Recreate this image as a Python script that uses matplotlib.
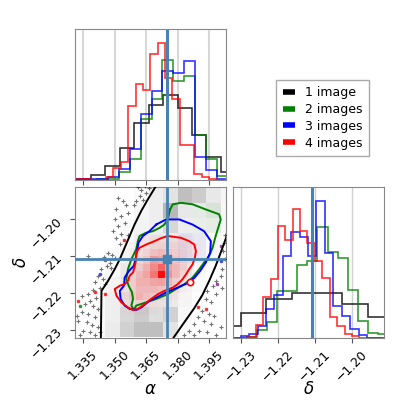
import matplotlib
matplotlib.use("Agg")
import matplotlib.pyplot as plt
import numpy as np
from matplotlib.colors import LinearSegmentedColormap
from matplotlib.lines import Line2D
from matplotlib.ticker import FuncFormatter

# ---- data ----
labels = ["1 image", "2 images", "3 images", "4 images"]
colors = ["black", "green", "blue", "red"]
alpha_true = 1.3748
delta_true = -1.2107

alpha_lim = (1.3312, 1.4030)
delta_lim = (-1.2322, -1.1912)
alpha_ticks = [1.335, 1.350, 1.365, 1.380, 1.395]
delta_ticks = [-1.23, -1.22, -1.21, -1.20]

# alpha marginals
a_edges_1 = [1.3320, 1.3389, 1.3457, 1.3526, 1.3594, 1.3663, 1.3731, 1.3800, 1.3868, 1.3937, 1.4005, 1.4074]
a_counts_1 = [1.2, 5.2, 13.8, 31.2, 56.8, 74.5, 84.5, 71.2, 44.5, 22.8, 7.8]
a_edges_23 = [1.3313, 1.3365, 1.3417, 1.3469, 1.3520, 1.3572, 1.3624, 1.3676, 1.3727, 1.3779,
              1.3831, 1.3882, 1.3934, 1.3986, 1.4038]
a_counts_2 = [0, 0, 0.5, 1, 8, 21, 60, 80.5, 119, 98, 103.5, 44.5, 21, 3.5]
a_counts_3 = [0.5, 0.5, 1, 3, 11, 31, 65, 88, 108, 105.5, 118, 23, 9.5, 1]
a_edges_4 = [1.3320, 1.3355, 1.3390, 1.3425, 1.3460, 1.3495, 1.3530, 1.3565, 1.3600, 1.3635, 1.3670,
             1.3705, 1.3740, 1.3774, 1.3809, 1.3844, 1.3879, 1.3914, 1.3949, 1.3984, 1.4019]
a_counts_4 = [1, 1, 0.3, 0.3, 3, 12, 18, 73.5, 95, 89.5, 125, 136, 101, 80, 34.5, 34.5, 6, 2.5, 0.5, 0.3]

# delta marginals
d_edges_1 = [-1.2368, -1.2299, -1.2231, -1.2162, -1.2093, -1.2025, -1.1956, -1.1887]
d_counts_1 = [13, 26.3, 41.7, 47.3, 47.3, 36.3, 22.3]
d_edges_2 = [-1.2313, -1.2285, -1.2258, -1.2230, -1.2203, -1.2175, -1.2148, -1.2120, -1.2093, -1.2065,
             -1.2037, -1.2010, -1.1982, -1.1955, -1.1927, -1.1899]
d_counts_2 = [0.3, 1.5, 8, 17.3, 49.7, 49.7, 77.3, 81.7, 117.3, 91.3, 84.7, 50.7, 18, 5.7, 4.7]
d_edges_3 = [-1.2324, -1.2301, -1.2278, -1.2255, -1.2233, -1.2210, -1.2187, -1.2164, -1.2141, -1.2118,
             -1.2096, -1.2073, -1.2050, -1.2027, -1.2004, -1.1981, -1.1959, -1.1936, -1.1913]
d_counts_3 = [0.3, 1.7, 4.7, 12.3, 30.7, 45.7, 87.3, 112.3, 107.3, 87.3, 145.7, 90, 34, 23.3, 9.7, 3.3, 0.5, 0.3]
d_edges_4 = [-1.2321, -1.2301, -1.2281, -1.2260, -1.2240, -1.2220, -1.2200, -1.2180, -1.2160, -1.2140,
             -1.2120, -1.2099, -1.2079, -1.2059, -1.2039, -1.2019, -1.1999, -1.1979, -1.1959, -1.1938, -1.1918]
d_counts_4 = [0.5, 0.5, 1.5, 14, 44, 63, 119, 104, 136.7, 114, 100.7, 81.3, 64, 22.3, 13, 4.7, 2.3, 0.5, 0.5, 0.5]

# 2d density, 1 image (gray)
gray_a_edges = [1.3320, 1.3389, 1.3457, 1.3526, 1.3594, 1.3663, 1.3731, 1.3800, 1.3868, 1.3937, 1.4005, 1.4074]
gray_d_edges = [-1.1874, -1.1915, -1.1955, -1.1996, -1.2036, -1.2077, -1.2117, -1.2157, -1.2198, -1.2238, -1.2279, -1.2319]
gray_density = [
    [0, 0, 0, 0, 0, 0.06, 0.09, 0.24, 0.22, 0.09, 0.04],
    [0, 0, 0, 0, 0.02, 0.07, 0.11, 0.25, 0.20, 0.09, 0.04],
    [0, 0, 0, 0, 0.04, 0.07, 0.28, 0.09, 0.06, 0.07, 0.03],
    [0, 0, 0, 0.02, 0.05, 0.07, 0.16, 0.07, 0.05, 0.05, 0.03],
    [0, 0, 0, 0.03, 0.06, 0.08, 0.08, 0.07, 0.05, 0.03, 0.01],
    [0, 0, 0.02, 0.05, 0.07, 0.08, 0.07, 0.07, 0.05, 0.03, 0],
    [0, 0, 0.03, 0.07, 0.08, 0.08, 0.08, 0.07, 0.03, 0.01, 0],
    [0, 0.01, 0.05, 0.07, 0.08, 0.08, 0.07, 0.05, 0.02, 0, 0],
    [0, 0.02, 0.07, 0.10, 0.08, 0.08, 0.08, 0.04, 0.01, 0, 0],
    [0, 0.02, 0.07, 0.16, 0.20, 0.13, 0.18, 0.03, 0, 0, 0],
    [0, 0.02, 0.08, 0.18, 0.25, 0.25, 0.11, 0.02, 0, 0, 0],
]

# faint 2d density, 2 and 3 images
green_a_edges = [1.3868, 1.3937, 1.4005]
green_d_edges = [-1.1955, -1.1996, -1.2036]
green_density = [[0.05, 0.10], [0.04, 0.06]]
blue_a_edges = [1.3800, 1.3868, 1.3937]
blue_d_edges = [-1.2036, -1.2077, -1.2117]
blue_density = [[0.06, 0.05], [0.05, 0.04]]

# 2d density, 4 images (red)
red_a_edges = [1.3532, 1.3567, 1.3601, 1.3636, 1.3671, 1.3705, 1.3740, 1.3775, 1.3809, 1.3844, 1.3879, 1.3913]
red_d_edges = [-1.2041, -1.2061, -1.2081, -1.2100, -1.2120, -1.2140, -1.2160, -1.2180, -1.2200, -1.2219, -1.2239, -1.2259]
red_density = [
    [0, 0, 0.03, 0.05, 0.06, 0.06, 0.07, 0.06, 0.05, 0.03, 0],
    [0, 0.02, 0.05, 0.08, 0.10, 0.12, 0.12, 0.10, 0.08, 0.05, 0.02],
    [0, 0.03, 0.07, 0.12, 0.18, 0.22, 0.18, 0.14, 0.10, 0.06, 0.02],
    [0.01, 0.05, 0.10, 0.18, 0.35, 0.30, 0.25, 0.18, 0.10, 0.05, 0.01],
    [0.03, 0.08, 0.14, 0.25, 0.42, 0.58, 0.32, 0.22, 0.14, 0.05, 0.01],
    [0.03, 0.10, 0.22, 0.30, 0.50, 0.95, 0.38, 0.22, 0.10, 0.04, 0.01],
    [0.05, 0.14, 0.25, 0.25, 0.30, 0.32, 0.25, 0.14, 0.07, 0.02, 0],
    [0.07, 0.14, 0.22, 0.22, 0.22, 0.18, 0.14, 0.08, 0.03, 0.01, 0],
    [0.07, 0.14, 0.25, 0.18, 0.14, 0.10, 0.07, 0.03, 0.01, 0, 0],
    [0.03, 0.08, 0.10, 0.10, 0.07, 0.05, 0.03, 0.01, 0, 0, 0],
    [0.01, 0.03, 0.03, 0.03, 0.02, 0.01, 0, 0, 0, 0, 0],
]

# contours (alpha, delta)
c1_left_a = [1.3435, 1.3438, 1.3469, 1.3501, 1.3525, 1.3548, 1.3572, 1.3595, 1.3627, 1.3658, 1.3690, 1.3706]
c1_left_d = [-1.2324, -1.2194, -1.2167, -1.2135, -1.2108, -1.2077, -1.2045, -1.2014, -1.1977, -1.1946, -1.1916, -1.1901]
c1_right_a = [1.3777, 1.3832, 1.3879, 1.3918, 1.3950, 1.3981, 1.4005, 1.4036]
c1_right_d = [-1.2324, -1.2279, -1.2241, -1.2205, -1.2167, -1.2126, -1.2090, -1.2041]

c2_a = [1.3764, 1.3777, 1.3816, 1.3871, 1.3934, 1.3997, 1.4005, 1.3981, 1.3966, 1.3950, 1.3926, 1.3903,
        1.3871, 1.3832, 1.3792, 1.3753, 1.3698, 1.3651, 1.3603, 1.3592, 1.3580, 1.3588, 1.3583, 1.3567,
        1.3556, 1.3564, 1.3580, 1.3603, 1.3611, 1.3619, 1.3651, 1.3682, 1.3714, 1.3737, 1.3753]
c2_d = [-1.1973, -1.1959, -1.1955, -1.1959, -1.1973, -1.1986, -1.2000, -1.2045, -1.2077, -1.2099, -1.2117,
        -1.2135, -1.2158, -1.2176, -1.2189, -1.2203, -1.2216, -1.2225, -1.2234, -1.2246, -1.2234, -1.2216,
        -1.2198, -1.2180, -1.2162, -1.2135, -1.2108, -1.2081, -1.2059, -1.2045, -1.2036, -1.2032, -1.2023,
        -1.2014, -1.2000]

c3_a = [1.3698, 1.3745, 1.3808, 1.3871, 1.3926, 1.3958, 1.3955, 1.3934, 1.3907, 1.3879, 1.3847, 1.3800,
        1.3753, 1.3706, 1.3666, 1.3627, 1.3603, 1.3572, 1.3548, 1.3529, 1.3525, 1.3545, 1.3548, 1.3567,
        1.3592, 1.3603, 1.3614, 1.3635, 1.3666]
c3_d = [-1.2014, -1.2000, -1.2000, -1.2014, -1.2032, -1.2059, -1.2090, -1.2117, -1.2140, -1.2159, -1.2173,
        -1.2185, -1.2196, -1.2210, -1.2221, -1.2239, -1.2246, -1.2243, -1.2234, -1.2216, -1.2194, -1.2180,
        -1.2158, -1.2141, -1.2126, -1.2099, -1.2063, -1.2045, -1.2032]

c4_a = [1.3753, 1.3816, 1.3855, 1.3879, 1.3887, 1.3882, 1.3871, 1.3855, 1.3840, 1.3824, 1.3800, 1.3777,
        1.3737, 1.3706, 1.3674, 1.3643, 1.3611, 1.3588, 1.3564, 1.3532, 1.3509, 1.3501, 1.3525, 1.3548,
        1.3564, 1.3572, 1.3588, 1.3595, 1.3603, 1.3603, 1.3619, 1.3651, 1.3690, 1.3721]
c4_d = [-1.2045, -1.2050, -1.2059, -1.2068, -1.2086, -1.2104, -1.2122, -1.2135, -1.2149, -1.2162, -1.2176,
        -1.2185, -1.2194, -1.2203, -1.2216, -1.2230, -1.2243, -1.2246, -1.2239, -1.2225, -1.2207, -1.2189,
        -1.2180, -1.2176, -1.2167, -1.2153, -1.2144, -1.2131, -1.2108, -1.2090, -1.2077, -1.2068, -1.2059,
        -1.2051]
c4_island = (1.3860, -1.2169)

# samples outside the contours
pts_a = [1.3611, 1.3627, 1.3646, 1.3651, 1.3619, 1.3635, 1.3603, 1.3662, 1.3592,
         1.3517, 1.3540, 1.3556, 1.3509, 1.3564, 1.3532, 1.3501, 1.3548, 1.3517, 1.3493, 1.3532, 1.3564,
         1.3509, 1.3525,
         1.3469, 1.3488, 1.3451, 1.3501, 1.3375, 1.3477, 1.3462, 1.3438, 1.3485, 1.3422, 1.3446, 1.3406,
         1.3430, 1.3399, 1.3454,
         1.3375, 1.3343, 1.3414, 1.3383, 1.3359, 1.3399, 1.3422, 1.3343, 1.3375, 1.3406, 1.3328, 1.3367,
         1.3391, 1.3422, 1.3351, 1.3383, 1.3406, 1.3336, 1.3430, 1.3320,
         1.4018, 1.4024, 1.4013, 1.4005, 1.3981, 1.3966, 1.4013, 1.3942, 1.3981, 1.3934, 1.3958, 1.3918,
         1.3950, 1.3895, 1.3926, 1.3879, 1.3958, 1.3855, 1.3903, 1.3942, 1.3832, 1.3879, 1.3981, 1.4005,
         1.3973, 1.4024, 1.4021]
pts_d = [-1.1913, -1.1919, -1.1910, -1.1928, -1.1937, -1.1946, -1.1950, -1.1916, -1.1961,
         -1.1941, -1.1950, -1.1961, -1.1973, -1.1982, -1.1991, -1.2000, -1.2009, -1.2018, -1.2032, -1.2039,
         -1.2041, -1.2050, -1.2068,
         -1.2090, -1.2096, -1.2102, -1.2105, -1.2099, -1.2117, -1.2126, -1.2135, -1.2131, -1.2153, -1.2162,
         -1.2171, -1.2185, -1.2192, -1.2176,
         -1.2203, -1.2207, -1.2212, -1.2221, -1.2230, -1.2234, -1.2243, -1.2252, -1.2257, -1.2266, -1.2275,
         -1.2279, -1.2288, -1.2293, -1.2302, -1.2306, -1.2315, -1.2315, -1.2306, -1.2261,
         -1.2086, -1.2108, -1.2135, -1.2153, -1.2167, -1.2180, -1.2185, -1.2194, -1.2203, -1.2216, -1.2225,
         -1.2248, -1.2257, -1.2266, -1.2275, -1.2284, -1.2284, -1.2302, -1.2302, -1.2306, -1.2315, -1.2315,
         -1.2315, -1.2293, -1.2261, -1.2041, -1.2063]
red_pts_a = [1.3545, 1.3457, 1.3406, 1.3328, 1.3895, 1.3934, 1.3454]
red_pts_d = [-1.2057, -1.2109, -1.2196, -1.2221, -1.2237, -1.2243, -1.2203]
green_pts_a = [1.3336]
green_pts_d = [-1.2234]
blue_pts_a = [1.3430, 1.4005]
blue_pts_d = [-1.2149, -1.2113]
purple_pts_a = [1.4005, 1.3989]
purple_pts_d = [-1.2072, -1.2176]

truth_color = "#4682b4"
spine_color = "#888888"


def ramp(rgb):
    return LinearSegmentedColormap.from_list("r", [(*rgb, 0.0), (*rgb, 1.0)])


def style(ax):
    for s in ax.spines.values():
        s.set_color(spine_color)
    ax.tick_params(colors="#555555", labelcolor="black", labelsize=9, length=3.5)


fmt_a = FuncFormatter(lambda x, p: f"{x:.3f}")
fmt_d = FuncFormatter(lambda x, p: f"{x:.2f}".replace("-", "\u2212"))

fig = plt.figure(figsize=(4.15, 4.15), dpi=100)
ax_a = fig.add_axes([0.1807, 0.5663, 0.3639, 0.3639])
ax_2d = fig.add_axes([0.1807, 0.1855, 0.3639, 0.3639])
ax_d = fig.add_axes([0.5614, 0.1855, 0.3639, 0.3639])

# top: alpha marginal
a_hists = [(a_edges_1, a_counts_1), (a_edges_23, a_counts_2), (a_edges_23, a_counts_3), (a_edges_4, a_counts_4)]
for (e, c), col in zip(a_hists, colors):
    ax_a.stairs(c, e, color=col, lw=1.2, alpha=0.8)
ax_a.axvline(alpha_true, color=truth_color, lw=2.2)
ax_a.set_xlim(alpha_lim)
ax_a.set_ylim(0, 1.1 * max(max(c) for _, c in a_hists))
ax_a.set_yticks([])
ax_a.set_xticks(alpha_ticks)
ax_a.set_xticklabels([])
ax_a.grid(axis="x", color="#d8d8d8", lw=1.5)
ax_a.set_axisbelow(True)
style(ax_a)

# right: delta marginal
d_hists = [(d_edges_1, d_counts_1), (d_edges_2, d_counts_2), (d_edges_3, d_counts_3), (d_edges_4, d_counts_4)]
for (e, c), col in zip(d_hists, colors):
    ax_d.stairs(c, e, color=col, lw=1.2, alpha=0.8)
ax_d.axvline(delta_true, color=truth_color, lw=2.2)
ax_d.set_xlim(delta_lim)
ax_d.set_ylim(0, 1.1 * max(max(c) for _, c in d_hists))
ax_d.set_yticks([])
ax_d.set_xticks(delta_ticks)
ax_d.xaxis.set_major_formatter(fmt_d)
ax_d.grid(axis="x", color="#d0d0d0", lw=1.0)
ax_d.set_axisbelow(True)
for lab in ax_d.get_xticklabels():
    lab.set_rotation(45)
ax_d.set_xlabel(r"$\delta$", fontsize=12)
ax_d.xaxis.set_label_coords(0.5, -0.28)
style(ax_d)

# 2d panel
ax_2d.pcolormesh(gray_a_edges, gray_d_edges, np.array(gray_density), cmap=ramp((0, 0, 0)),
                 vmin=0, vmax=1, shading="flat", zorder=1)
ax_2d.pcolormesh(green_a_edges, green_d_edges, np.array(green_density), cmap=ramp((0, 0.5, 0)),
                 vmin=0, vmax=1, shading="flat", zorder=1)
ax_2d.pcolormesh(blue_a_edges, blue_d_edges, np.array(blue_density), cmap=ramp((0, 0, 1)),
                 vmin=0, vmax=1, shading="flat", zorder=1)
ax_2d.pcolormesh(red_a_edges, red_d_edges, np.array(red_density), cmap=ramp((1, 0, 0)),
                 vmin=0, vmax=1, shading="flat", zorder=2)
ax_2d.plot(pts_a, pts_d, "+", color="black", ms=3.2, mew=0.8, alpha=0.55, zorder=3)
ax_2d.plot(red_pts_a, red_pts_d, "s", color="red", ms=1.8, alpha=0.7, zorder=3)
ax_2d.plot(green_pts_a, green_pts_d, "s", color="green", ms=1.8, alpha=0.7, zorder=3)
ax_2d.plot(blue_pts_a, blue_pts_d, "s", color="blue", ms=1.8, alpha=0.6, zorder=3)
ax_2d.plot(purple_pts_a, purple_pts_d, "s", color="purple", ms=1.8, alpha=0.6, zorder=3)

ax_2d.plot(c1_left_a, c1_left_d, color="black", lw=1.4, zorder=4)
ax_2d.plot(c1_right_a, c1_right_d, color="black", lw=1.4, zorder=4)
for ca, cd, col in [(c2_a, c2_d, "green"), (c3_a, c3_d, "blue"), (c4_a, c4_d, "red")]:
    ax_2d.plot(ca + ca[:1], cd + cd[:1], color=col, lw=1.4, zorder=4)
ax_2d.plot(*c4_island, "o", ms=4.5, mfc="white", mec="red", mew=1.2, zorder=4)

ax_2d.axvline(alpha_true, color=truth_color, lw=2.0, zorder=5)
ax_2d.axhline(delta_true, color=truth_color, lw=2.0, zorder=5)
ax_2d.plot(alpha_true, delta_true, "s", color=truth_color, ms=6, zorder=6)

ax_2d.set_xlim(alpha_lim)
ax_2d.set_ylim(delta_lim)
ax_2d.set_xticks(alpha_ticks)
ax_2d.set_yticks(delta_ticks)
ax_2d.xaxis.set_major_formatter(fmt_a)
ax_2d.yaxis.set_major_formatter(fmt_d)
for lab in ax_2d.get_xticklabels() + ax_2d.get_yticklabels():
    lab.set_rotation(45)
ax_2d.set_xlabel(r"$\alpha$", fontsize=12)
ax_2d.set_ylabel(r"$\delta$", fontsize=12)
ax_2d.xaxis.set_label_coords(0.5, -0.28)
ax_2d.yaxis.set_label_coords(-0.3, 0.5)
style(ax_2d)

handles = [Line2D([], [], color=c, lw=4, solid_capstyle="butt") for c in colors]
fig.legend(handles, labels, loc="upper left", bbox_to_anchor=(0.651, 0.822), fontsize=9,
           fancybox=False, edgecolor="#aaaaaa", framealpha=1, handlelength=1.0,
           labelspacing=0.3, borderpad=0.5, handletextpad=0.8)

fig.savefig("out.png", dpi=100)
